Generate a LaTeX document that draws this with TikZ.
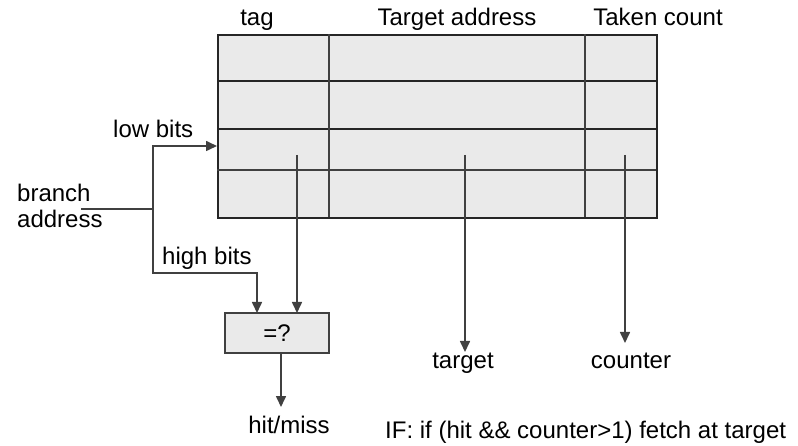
\documentclass[tikz,border=0pt]{standalone}
\usepackage{fontspec}
\setmainfont{Liberation Sans}
\usetikzlibrary{arrows.meta}
\definecolor{wirec}{HTML}{404040}
\definecolor{cellc}{HTML}{EAEAEA}
\begin{document}
\begin{tikzpicture}[x=1pt,y=-1pt,
  every node/.style={font=\fontsize{24}{28}\selectfont, inner sep=0pt},
  wire/.style={draw=wirec, line width=1.6pt},
  arr/.style={wire, -{Triangle[length=11pt,width=10pt]}},
  frame/.style={draw=black!85, line width=1.6pt},
  lbl/.style={anchor=base}]
\useasboundingbox (0,0) rectangle (798,446);
% table
\node[frame, fill=cellc, minimum width=439pt, minimum height=183pt, anchor=north west] (tbl) at (217,34) {};
\draw[frame] (217,81) -- (656,81);
\draw[frame] (217,129) -- (656,129);
\draw[wire] (217,170) -- (656,170);
\draw[wire] (329,34) -- (329,217);
\draw[wire] (585,34) -- (585,217);
% headers
\node[lbl] (htag) at (257,26) {tag};
\node[lbl] (htarget) at (457,26) {Target address};
\node[lbl] (hcount) at (658,26) {Taken count};
% left labels
\node[anchor=base west] (low) at (113,138) {low bits};
\node[anchor=base west] (br1) at (17,202) {branch};
\node[anchor=base west] (br2) at (17,228) {address};
\node[anchor=base west] (high) at (162,265) {high bits};
% compare box
\node[draw=wirec, line width=1.6pt, fill=cellc, minimum width=104pt, minimum height=40pt] (cmp) at (277,333) {=?};
% outputs
\node[lbl] (hm) at (289,433) {hit/miss};
\node[lbl] (tgt) at (463,368) {target};
\node[lbl] (cnt) at (631,368) {counter};
\node[anchor=base west] (ifl) at (385,438) {IF: if (hit \&\& counter>1) fetch at target};
% coordinates
\coordinate (bastart) at (81,209);
\coordinate (J) at (153,209);
\coordinate (lowin) at (217,146);
\coordinate (hbend) at (153,273);
\coordinate (hbin) at (257,313);
\coordinate (tagsrc) at (297,155);
\coordinate (tagin) at (297,313);
\coordinate (outsrc) at (281,353);
\coordinate (outtip) at (281,407);
\coordinate (tsrc) at (465,155);
\coordinate (ttip) at (465,352);
\coordinate (csrc) at (625,155);
\coordinate (ctip) at (625,343);
% connectors
\draw[wire] (bastart) -- (J);
\draw[arr] (J) |- (lowin);
\draw[arr] (J) -- (hbend) -| (hbin);
\draw[arr] (tagsrc) -- (tagin);
\draw[arr] (outsrc) -- (outtip);
\draw[arr] (tsrc) -- (ttip);
\draw[arr] (csrc) -- (ctip);
\end{tikzpicture}
\end{document}
